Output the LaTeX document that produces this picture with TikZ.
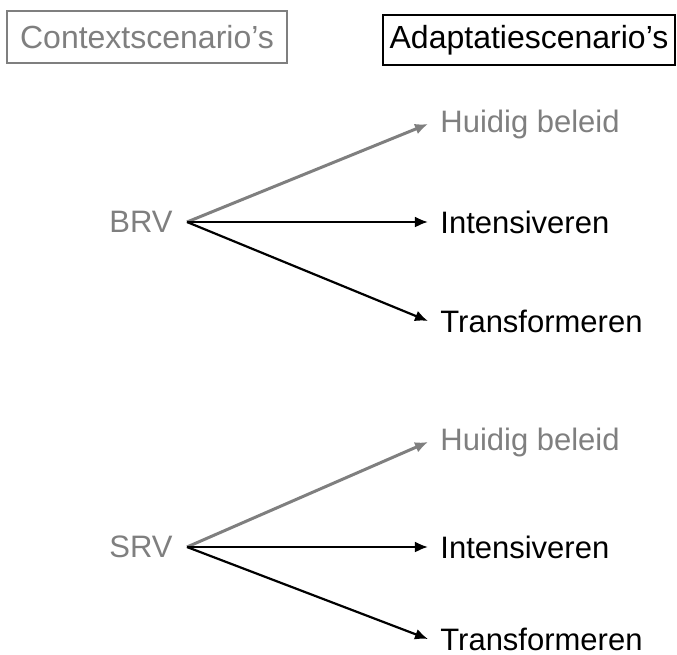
\documentclass[tikz,border=0pt]{standalone}
\usepackage{fontspec}
\setmainfont{Liberation Sans}
\usepackage{tikz}
\usetikzlibrary{arrows.meta, positioning}

\definecolor{ctxgray}{RGB}{127,127,127}

\begin{document}
\begin{tikzpicture}[
    x=0.5pt, y=-0.5pt,
    font=\fontsize{16}{19}\selectfont,
    ctxbox/.style={draw=ctxgray, text=ctxgray, line width=1pt,
                   minimum width=140pt, minimum height=26pt, inner sep=0pt},
    adpbox/.style={draw=black, line width=1.3pt,
                   minimum width=146pt, minimum height=25pt, inner sep=0pt},
    ctxst/.style={text=ctxgray, anchor=east, inner xsep=7pt, inner ysep=0pt,
                  font=\fontsize{15.5}{18}\selectfont},
    optst/.style={anchor=west, inner xsep=6pt, inner ysep=0pt,
                  font=\fontsize{15.5}{18}\selectfont},
    grayarr/.style={-{Latex[length=6.5pt, width=5.5pt]}, draw=ctxgray, line width=1.5pt},
    arr/.style={-{Latex[length=6.5pt, width=5.5pt]}, line width=1.1pt},
  ]
  \useasboundingbox (0,0) rectangle (677,655);
  %% Headers
  \node[ctxbox] (ctx) at (147,37) {Contextscenario’s};
  \node[adpbox] (adp) at (529,40) {Adaptatiescenario’s};
  %% BRV group
  \node[ctxst] (brv) at (187,222) {BRV};
  \node[optst, text=ctxgray] (brvhb) at (428,124) {Huidig beleid};
  \node[optst] (brvint) at (428,222) {Intensiveren};
  \node[optst] (brvtr) at (428,321) {Transformeren};
  %% SRV group
  \node[ctxst] (srv) at (187,547) {SRV};
  \node[optst, text=ctxgray] (srvhb) at (428,442) {Huidig beleid};
  \node[optst] (srvint) at (428,547) {Intensiveren};
  \node[optst] (srvtr) at (428,639) {Transformeren};
  %% Arrows
  \draw[grayarr] (brv.east) -- (brvhb.west);
  \draw[arr] (brv.east) -- (brvint.west);
  \draw[arr] (brv.east) -- (brvtr.west);
  \draw[grayarr] (srv.east) -- (srvhb.west);
  \draw[arr] (srv.east) -- (srvint.west);
  \draw[arr] (srv.east) -- (srvtr.west);
\end{tikzpicture}
\end{document}
